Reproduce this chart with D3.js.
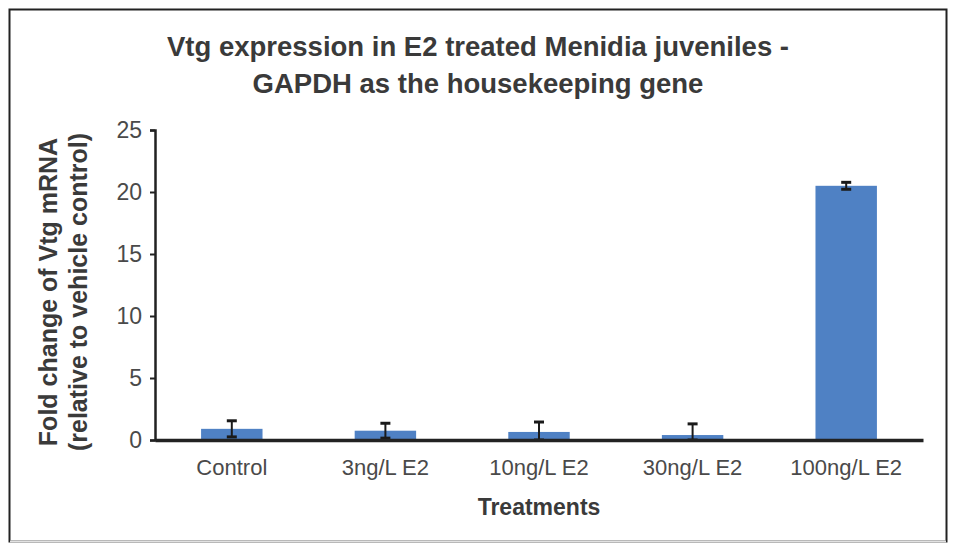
<!DOCTYPE html>
<html>
<head>
<meta charset="utf-8">
<script src="https://cdn.jsdelivr.net/npm/d3@7"></script>
<style>
  html, body { margin: 0; padding: 0; background: #fff; }
  svg text { font-family: "Liberation Sans", Arial, sans-serif; }
</style>
</head>
<body>
<svg id="chart" width="953" height="547"></svg>
<script>
// Treatment groups and measured fold change with error
const treatments = ["Control", "3ng/L E2", "10ng/L E2", "30ng/L E2", "100ng/L E2"];
const foldChange = [0.9, 0.75, 0.65, 0.4, 20.5];
const errorBars = [0.65, 0.6, 0.8, 0.9, 0.28];
const yTicks = [0, 5, 10, 15, 20, 25];

const titleLines = ["Vtg expression in E2 treated Menidia juveniles -", "GAPDH as the housekeeping gene"];
const yTitleLines = ["Fold change of Vtg mRNA", "(relative to vehicle control)"];
const xTitle = "Treatments";

const svg = d3.select("#chart");
const W = 953, H = 547;
const margin = { left: 155, right: 30, top: 130, bottom: 107 };

// outer frame
svg.append("rect")
  .attr("x", 9.5).attr("y", 9.5)
  .attr("width", 937).attr("height", 532)
  .attr("fill", "#fff")
  .attr("stroke", "#222").attr("stroke-width", 2);
svg.append("line")
  .attr("x1", 10).attr("x2", 946).attr("y1", 541.5).attr("y2", 541.5)
  .attr("stroke", "#e2e2e2").attr("stroke-width", 2);

const x = d3.scaleBand()
  .domain(treatments)
  .range([margin.left, W - margin.right])
  .paddingInner(0.6).paddingOuter(0.3);

const y = d3.scaleLinear()
  .domain([0, 25])
  .range([H - margin.bottom, margin.top]);

// bars
svg.append("g").selectAll("rect")
  .data(treatments)
  .join("rect")
  .attr("x", d => x(d))
  .attr("width", x.bandwidth())
  .attr("y", (d, i) => y(foldChange[i]))
  .attr("height", (d, i) => y(0) - y(foldChange[i]))
  .attr("fill", "#4f81c4");

// error bars
const eb = svg.append("g").attr("stroke", "#1a1a1a").attr("stroke-width", 2);
treatments.forEach((t, i) => {
  const cx = x(t) + x.bandwidth() / 2;
  const lo = y(Math.max(0, foldChange[i] - errorBars[i]));
  const hi = y(foldChange[i] + errorBars[i]);
  eb.append("line").attr("x1", cx).attr("x2", cx).attr("y1", lo).attr("y2", hi);
  eb.append("line").attr("x1", cx - 5).attr("x2", cx + 5).attr("y1", hi).attr("y2", hi).attr("stroke-width", 3);
  eb.append("line").attr("x1", cx - 5).attr("x2", cx + 5).attr("y1", lo).attr("y2", lo).attr("stroke-width", 3);
});

// y axis
const yAxis = svg.append("g")
  .attr("transform", `translate(${margin.left},0)`)
  .call(d3.axisLeft(y).tickValues(yTicks).tickSize(5).tickPadding(8));
yAxis.select(".domain").attr("stroke", "#222").attr("stroke-width", 2.5);
yAxis.selectAll(".tick line").attr("stroke", "#222").attr("stroke-width", 2);
yAxis.selectAll(".tick text")
  .attr("font-size", 23).attr("fill", "#4a4a4a")
  .style("font-family", "'Liberation Sans', Arial, sans-serif");

// x axis
const xAxis = svg.append("g")
  .attr("transform", `translate(0,${y(0)})`)
  .call(d3.axisBottom(x).tickSize(0).tickPadding(19));
xAxis.select(".domain").attr("stroke", "#222").attr("stroke-width", 3.5);
xAxis.selectAll(".tick text")
  .attr("font-size", 22).attr("fill", "#4a4a4a")
  .style("font-family", "'Liberation Sans', Arial, sans-serif");

// chart title
svg.append("text")
  .attr("x", 478).attr("y", 56)
  .attr("text-anchor", "middle")
  .attr("font-size", 27.5).attr("font-weight", "bold").attr("fill", "#3a3a3a")
  .selectAll("tspan").data(titleLines).join("tspan")
  .attr("x", 478).attr("dy", (d, i) => i === 0 ? 0 : 37)
  .text(d => d);

// y axis title
svg.append("text")
  .attr("transform", "translate(57,292) rotate(-90)")
  .attr("text-anchor", "middle")
  .attr("font-size", 25).attr("font-weight", "bold").attr("fill", "#3a3a3a")
  .selectAll("tspan").data(yTitleLines).join("tspan")
  .attr("x", 0).attr("dy", (d, i) => i === 0 ? 0 : 30)
  .text(d => d);

// x axis title
svg.append("text")
  .attr("x", 539).attr("y", 515)
  .attr("text-anchor", "middle")
  .attr("font-size", 23).attr("font-weight", "bold").attr("fill", "#3a3a3a")
  .text(xTitle);
</script>
</body>
</html>
